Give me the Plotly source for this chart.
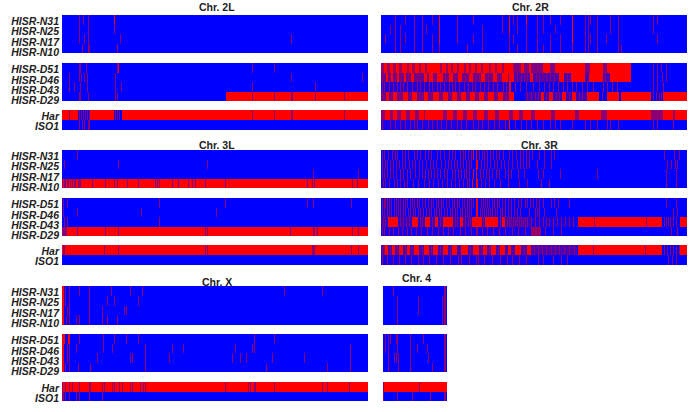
import plotly.graph_objects as go

# Each row: int = single mixed-call window, (a, b) = run of solid calls [a, b),
# (a, b, v) = stretch of windows with the averaged call v
NEURO = ["HISR-N31", "HISR-N25", "HISR-N17", "HISR-N10"]
DOPA = ["HISR-D51", "HISR-D46", "HISR-D43", "HISR-D29"]
REFS = ["Har", "ISO1"]
ARMS = ["Chr. 2L", "Chr. 2R", "Chr. 3L", "Chr. 3R", "Chr. X", "Chr. 4"]
WINDOWS = [306, 306, 306, 306, 306, 64]

L2_N31 = [17, 21, 26, (52, 53)]
L2_N25 = [17, 26, 52]
L2_N17 = [17, 22, 26, 58, 229]
L2_N10 = [20, 26, 27, 55]
L2_D51 = [17, 18, 24, 55, (56, 57), 190, 212]
L2_D46 = [7, 17, 19, 22, 25, 53, 229, 300]
L2_D43 = [7, 12, 18, 25, 53, 59, 190, 253]
L2_D29 = [17, 18, 26, 53, 55, (164, 306), 190, 212, 229, 230, 253, 282]
L2_HAR = [(0, 16), (28, 52), (60, 306), 7, 212, 190, 229, 230, 282, 17, 19, 21, 23, 25, 27, 53, 55, 57]
L2_ISO = [17, 20, 22, 26, 27]

R2_N31 = [14, 24, 33, 41, 51, (58, 59), 76, 92, 121, (128, 129), 132, 136, (145, 146), 156, 162, 169, 179, (191, 192), 204, 207, 209, 216, 229, 237, 272, 276]
R2_N25 = [9, 14, 19, 33, 41, 45, (58, 59), 76, 101, 121, (128, 129), 136, 145, 156, 162, 174, (191, 192), 204, 207, 216, 229, 237, 272]
R2_N17 = [4, 14, 19, 24, 33, 41, 51, (58, 59), 76, 92, 101, 128, 132, 145, 156, 169, 179, (191, 192), 204, 207, 209, 216, 225, 237, 276]
R2_N10 = [14, 19, 33, 41, 51, 58, 86, 101, 128, 136, 145, 156, 162, 169, 179, 191, 204, 207, 216, 237, 240]
R2_D51 = [(0, 133, 0.62), (133, 250, 0.5), (3, 6), (9, 12), (15, 18), (21, 26), (28, 31), (34, 38), (40, 44), (46, 59), (61, 65), (67, 70), (72, 76), (78, 83), (85, 88), (90, 94), (96, 100), (102, 108), (110, 114), (116, 121), (123, 132), (140, 143), (148, 150), (162, 169), (174, 204), (209, 222), (226, 250), 272, 276, 280, 285]
R2_D46 = [(0, 133, 0.45), (133, 250, 0.3), 2, (5, 7), 9, (10, 12), 14, (16, 18), 20, (23, 25), 27, (30, 33), 35, 38, (43, 46), (48, 52), 54, (56, 62), 64, (68, 72), 74, (77, 81), 84, (88, 92), 95, 98, (100, 104), 107, (112, 116), 119, (121, 127), (128, 133), 136, 140, 143, 146, (149, 152), 155, 158, 161, 165, 169, 173, (178, 183), 186, (190, 204), (208, 222), 224, (229, 250), 272, 276, 281, 285]
R2_D43 = [(0, 128, 0.12), 1, 3, 8, 12, 16, 19, 22, 26, 31, 36, 39, 43, 48, 51, 56, 59, 63, 68, 71, 74, 78, 83, 87, 91, 94, 99, 103, 107, 112, 116, 122, 125, (128, 130), 134, 139, 145, 152, 158, 163, 168, 172, 177, 182, 186, 191, 195, 201, 206, 212, 222, 226, 231, 236, 272, 276, 282]
R2_D29 = [(0, 133, 0.45), (144, 206, 0.25), 2, (5, 8), 10, (12, 16), 18, 20, (22, 27), 29, (31, 36), 38, 41, (43, 47), 50, (52, 58), 60, (62, 67), 69, (71, 76), 78, (80, 85), 87, (89, 94), 96, (98, 103), 105, (107, 113), 115, (117, 122), 125, (128, 133), 146, 150, 154, 157, (160, 163), 165, (168, 172), 175, 178, (181, 185), 188, (191, 195), 198, 201, (206, 218), 221, (226, 238), (240, 270), 272, 275, 278, 280, (282, 306)]
R2_HAR = [(0, 306, 0.55), (4, 9), (12, 16), (20, 25), (29, 34), (38, 43), (44, 62), (66, 72), (76, 82), (86, 92), (96, 103), (107, 114), (118, 128), (132, 138), (142, 150), (154, 170), (174, 194), (198, 220), (226, 270), (282, 292), (294, 306)]
R2_ISO = [(0, 128, 0.1), 1, 9, 14, 19, 24, 29, 33, 36, 41, 47, 51, 56, 60, 65, 70, 76, 80, 85, 92, 97, 101, 107, 113, 118, 124, (128, 129), 134, 140, 145, 150, 156, 162, 169, 174, 179, 191, 204, 209, 216, 226, 229, 237, 272, 276, 292]

L3_N31 = [15]
L3_N25 = [2, 56, 145]
L3_N17 = [251, 296]
L3_N10 = [(0, 306), 0, 2, 3, 5, 6, 8, 10, 12, 13, 16, 17, 18, 30, 43, 52, 55, 65, 76, 93, 95, 97, 110, 116, 126, 130, 133, 143, 163, 245, 250, 252, 290, 295]
L3_D51 = [1, 5, 97, 163, 245, 251, 289]
L3_D46 = [1, 15, 79, 154]
L3_D43 = [2, 5, 97]
L3_D29 = [(0, 306), 0, 1, 2, 3, 4, 15, 43, 56, 143, 145, 228, 251, 252, 255, 290, 296]
L3_HAR = [(0, 306), 1, 2, 42, 56, 143, 145, 250, 251, 252, 289, 296]
L3_ISO = []

R3_N31 = [1, 3, 7, 11, 14, 16, 21, 24, 27, 33, 36, 39, 44, 47, 50, 56, 59, 63, 68, 71, 74, 79, 82, 84, 87, 90, (92, 93), (95, 96), 98, 101, 103, 106, 109, 112, 115, 118, 122, 128, 131, 135, 139, 142, 145, 148, 151, 158, 163, 170, 173, 283, 293, 298]
R3_N25 = [1, 4, 6, 9, 12, 15, 18, 21, 24, 28, 31, 34, 38, 41, 45, 49, 52, 55, 60, 64, 67, 70, 73, 76, 79, 82, 85, 88, 90, (95, 97), 100, 103, 106, 109, 113, 116, 120, 123, 127, 131, 136, 139, 142, 145, 148, 156, 163, 170, 286, 290, 294, 296]
R3_N17 = [1, 3, 6, 9, 12, 15, 19, 22, 26, 29, 34, 38, 41, 44, 47, 50, 53, 56, 59, 63, 66, 71, 74, 77, 80, 83, 85, 88, (92, 93), (95, 96), 99, 102, 105, 108, 111, 115, 118, 124, 127, 130, 137, 143, 157, 162, 179, 216, 285, 295]
R3_N10 = [2, 4, 8, 13, 16, 19, 23, 26, 32, 37, 43, 48, 52, 57, 61, 66, 70, 74, 78, 82, 86, 88, (91, 92), (95, 97), 100, 104, 108, 113, 119, 127, 138, 146, 160, 168, 285, 295]
R3_D51 = [1, 3, 4, 6, 8, 10, 13, 15, 17, 19, 22, 24, 26, 29, 31, 33, 36, 38, 41, 44, 47, 50, 52, 55, 57, 60, 62, 65, 68, 71, 73, 76, 78, 81, 83, 86, 88, 90, 92, (95, 97), 100, 102, 104, 106, 108, 111, 113, 116, 118, 121, 124, 127, 130, 133, 137, 140, 144, 146, 149, 152, 155, 158, 162, 170, 173, 177, 188, 285, 295]
R3_D46 = [1, 3, 6, 8, 10, 13, 15, 17, 19, 22, 24, 27, 29, 32, 34, 37, 39, 42, 45, 48, 50, 53, 55, 58, 60, 63, 66, 69, 71, 74, 76, 79, 81, 84, 86, 88, 90, (95, 97), 99, 101, 103, 105, 107, 109, 111, 114, 116, 119, 121, 124, 127, 130, 133, 136, 139, 148, 154, 156, 158, 163, 175, 292, 296]
R3_D43 = [(0, 150, 0.2), (150, 196, 0.08), 2, 4, (7, 17), 19, 22, 25, 28, (31, 37), 39, 41, (44, 49), 51, (54, 57), 59, (62, 72), 74, 76, (79, 82), 84, 87, 89, (91, 101), 102, (104, 117), 119, (121, 124), 126, 128, 130, 132, 134, 136, 138, 140, 142, 144, 146, 150, 154, 158, 162, 165, 168, 172, 176, 180, 184, 188, 192, (197, 281), 213, 265, 283, 285, 287, 289, 292, 295, (299, 306)]
R3_D29 = [(0, 150, 0.08), 1, 3, 8, 12, 17, 21, 26, 30, 35, 40, 46, 51, 57, 62, 67, 72, 79, 84, 90, 95, 96, 101, 106, 112, 118, 124, 131, 137, 144, (150, 160, 0.6), 164, 172, 180, 290, 296]
R3_HAR = [(0, 196, 0.3), 1, 3, (4, 7), 9, (11, 14), 16, (18, 22), 24, (26, 29), 31, (33, 38), 41, (43, 48), 50, (52, 57), 59, (62, 67), 69, (71, 76), (80, 87), 89, (92, 98), 100, (102, 106), 108, (110, 115), 117, (119, 124), (127, 130), (134, 140), 143, (146, 150), 153, 157, 161, 165, 170, 174, 178, 183, 188, 193, (197, 281), 212, 264, 283, 286, 289, 292, 295, 298, (299, 306)]
R3_ISO = [(0, 150, 0.08), 1, 6, 12, 18, 24, 30, 37, 42, 48, 55, 62, 69, 77, 80, 88, 95, 97, 103, 111, 119, 126, 131, 138, 145, 157, 162, 172, 180, 186, 287, 291, 295]

X_N31 = [(0, 2), 3, 7, 17, 27, 49, 68, 80, 222, 260]
X_N25 = [(0, 2), 3, 7, 27, 45, 52, 76]
X_N17 = [(0, 2), 5, 7, 27, 40, 62, 64]
X_N10 = [(0, 2), 4, 7, 14, 17, 27, 40, 45, 55]
X_D51 = [(0, 3), (6, 8), 17, 41, 52, 64, 76, 192, 212]
X_D46 = [(0, 2), 5, 7, 14, 41, 50, 83, 110, 121, 173, 190, 192, 288]
X_D43 = [(0, 2), 5, 7, 35, 68, 70, 83, 107, 170, 178, 184, 210, 242, 288]
X_D29 = [(0, 2), 3, 7, 16, 28, 83, 204, 265, 288]
X_HAR = [(0, 306), 0, 3, 7, 10, 17, 27, 28, 40, 42, 50, 52, 57, 60, 68, 70, 78, 81, 83, 163, 186, 188, 192, 193, 212, 260, 265, 287]
X_ISO = [0, 1, 3, 7, 14, 17, 27, 40]

C4_N31 = [10, 61, 62]
C4_N25 = [14, 35, 59, 61, 62]
C4_N17 = [14, 35, 59, 61, 62]
C4_N10 = [14, 59, 61, 62]
C4_D51 = [2, 5, 7, 13, 14, 27, 40, 61, 62]
C4_D46 = [2, 5, 14, 27, 34, 44, 61, 62]
C4_D43 = [5, 11, 13, 15, 27, 45, 61, 62]
C4_D29 = [5, 15, 27, 49, 61, 62]
C4_HAR = [(0, 64), 0, 36]
C4_ISO = [0, 14, 29, 47, 61, 62]

ARM_ROWS = [
    [[L2_N31, L2_N25, L2_N17, L2_N10], [L2_D51, L2_D46, L2_D43, L2_D29], [L2_HAR, L2_ISO]],
    [[R2_N31, R2_N25, R2_N17, R2_N10], [R2_D51, R2_D46, R2_D43, R2_D29], [R2_HAR, R2_ISO]],
    [[L3_N31, L3_N25, L3_N17, L3_N10], [L3_D51, L3_D46, L3_D43, L3_D29], [L3_HAR, L3_ISO]],
    [[R3_N31, R3_N25, R3_N17, R3_N10], [R3_D51, R3_D46, R3_D43, R3_D29], [R3_HAR, R3_ISO]],
    [[X_N31, X_N25, X_N17, X_N10], [X_D51, X_D46, X_D43, X_D29], [X_HAR, X_ISO]],
    [[C4_N31, C4_N25, C4_N17, C4_N10], [C4_D51, C4_D46, C4_D43, C4_D29], [C4_HAR, C4_ISO]],
]

W, H = 694, 412
MIXED = 0.55
COLS = [(62, 368), (381, 687), (62, 368), (381, 687), (62, 368), (383, 447)]
BLOCKS = [
    [(15, 53), (63, 101), (110, 130)],
    [(15, 53), (63, 101), (110, 130)],
    [(150, 188), (198, 236), (245, 265)],
    [(150, 188), (198, 236), (245, 265)],
    [(286, 325), (334, 372), (382, 401)],
    [(286, 325), (334, 372), (382, 401)],
]
TITLE_POS = [(217, 7), (530, 7), (217, 145), (539, 145), (217, 282), (416, 278)]
LABEL_CENTRES = [[6, 16.5, 27, 37.2], [6.5, 17, 27, 37], [6, 16.6]]


def expand(entries, n):
    row = [0.0] * n
    for e in entries:
        if isinstance(e, tuple) and len(e) == 3:
            for i in range(e[0], min(e[1], n)):
                row[i] = e[2]
    for e in entries:
        if isinstance(e, tuple) and len(e) == 2:
            for i in range(e[0], min(e[1], n)):
                row[i] = 1.0
    for e in entries:
        if not isinstance(e, tuple) and e < n:
            row[e] = MIXED
    return row


fig = go.Figure()
layout = dict(
    width=W, height=H, margin=dict(l=0, r=0, t=0, b=0),
    paper_bgcolor="white", plot_bgcolor="white", showlegend=False, annotations=[],
)
axis = 0
NAMES = [NEURO, DOPA, REFS]
for a, (arm, n) in enumerate(zip(ARMS, WINDOWS)):
    x0, x1 = COLS[a]
    for b, rows in enumerate(ARM_ROWS[a]):
        axis += 1
        y0, y1 = BLOCKS[a][b]
        suffix = "" if axis == 1 else str(axis)
        fig.add_trace(go.Heatmap(
            z=[expand(r, n) for r in rows],
            x=list(range(n)), y=list(range(len(rows))),
            colorscale=[[0, "#0000ff"], [1, "#ff0000"]], zmin=0, zmax=1,
            showscale=False, hoverinfo="skip",
            xaxis="x" + suffix, yaxis="y" + suffix,
        ))
        rh = (y1 - y0) / len(rows)
        if a % 2 == 0:
            tickvals = [c / rh - 0.5 for c in LABEL_CENTRES[b]]
            ticktext = ["<b><i>%s</i></b>" % s for s in NAMES[b]]
        else:
            tickvals, ticktext = [], []
        layout["xaxis" + suffix] = dict(
            domain=[x0 / W, x1 / W], range=[-0.5, n - 0.5], showgrid=False, zeroline=False,
            showticklabels=False, ticks="", anchor="y" + suffix, fixedrange=True, automargin=False,
        )
        layout["yaxis" + suffix] = dict(
            domain=[1 - y1 / H, 1 - y0 / H], range=[len(rows) - 0.5, -0.5], showgrid=False,
            zeroline=False, ticks="", tickmode="array", tickvals=tickvals, ticktext=ticktext,
            tickfont=dict(family="Liberation Sans", size=10.5, color="#222222"),
            ticklabelstandoff=2, anchor="x" + suffix, fixedrange=True, automargin=False,
        )
    tx, ty = TITLE_POS[a]
    layout["annotations"].append(dict(
        text="<b>%s</b>" % arm, xref="paper", yref="paper", x=tx / W, y=1 - ty / H,
        xanchor="center", yanchor="middle", showarrow=False,
        font=dict(family="Liberation Sans", size=10.5, color="#222222"),
    ))

fig.update_layout(**layout)
fig.write_html("out.html", config={"displayModeBar": False},
               post_script="document.body.style.margin='0';")
